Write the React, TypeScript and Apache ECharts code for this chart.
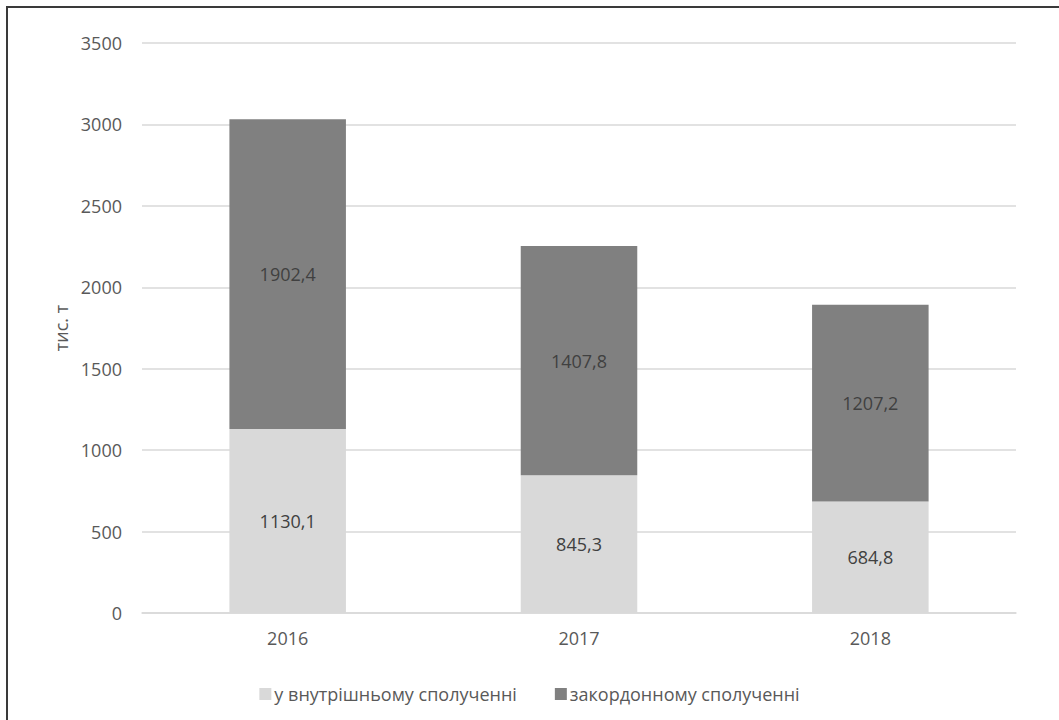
import React, { useEffect, useRef } from "react";
import * as echarts from "echarts";

const categories = ["2016", "2017", "2018"];
const domestic = [1130.1, 845.3, 684.8];
const foreign = [1902.4, 1407.8, 1207.2];
const seriesNames = ["у внутрішньому сполученні", "закордонному сполученні"];
const yAxisName = "тис. т";

const FONT = "'Open Sans', 'Liberation Sans', sans-serif";
const FS = 18;

export default function App() {
  const ref = useRef<HTMLDivElement>(null);
  useEffect(() => {
    if (!ref.current) return;
    const chart = echarts.init(ref.current, null, { renderer: "svg" });
    const fmt = (p: any) => String(p.value).replace(".", ",");
    chart.setOption({
      animation: false,
      backgroundColor: "#ffffff",
      textStyle: { fontFamily: FONT },
      graphic: [
        {
          type: "rect",
          shape: { x: 7, y: 7, width: 1070, height: 730 },
          style: { fill: "none", stroke: "#3a3a3a", lineWidth: 2 },
          silent: true,
        },
      ],
      grid: { left: 142, right: 43, top: 43, bottom: 107, containLabel: false },
      legend: {
        data: seriesNames,
        left: "center",
        top: 680,
        itemWidth: 12,
        itemHeight: 12,
        itemGap: 38,
        icon: "rect",
        textStyle: { fontFamily: FONT, fontSize: FS, color: "#595959", padding: [0, 0, 0, -2] },
      },
      xAxis: {
        type: "category",
        data: categories,
        axisLine: { show: true, lineStyle: { color: "#d9d9d9", width: 1.5 } },
        axisTick: { show: false },
        axisLabel: { fontFamily: FONT, fontSize: FS, color: "#595959", margin: 16 },
      },
      yAxis: {
        type: "value",
        min: 0,
        max: 3500,
        interval: 500,
        name: yAxisName,
        nameLocation: "middle",
        nameGap: 68,
        nameRotate: 90,
        nameTextStyle: { fontFamily: FONT, fontSize: FS, color: "#595959" },
        axisLine: { show: false },
        axisTick: { show: false },
        axisLabel: {
          fontFamily: FONT,
          fontSize: FS,
          color: "#595959",
          margin: 20,
          formatter: (v: number) => String(v),
        },
        splitLine: { lineStyle: { color: "#d9d9d9", width: 1.5 } },
      },
      series: [
        {
          name: seriesNames[0],
          type: "bar",
          stack: "total",
          data: domestic,
          barWidth: "40%",
          itemStyle: { color: "#d9d9d9" },
          label: { show: true, position: "inside", formatter: fmt, fontFamily: FONT, fontSize: FS, color: "#404040" },
        },
        {
          name: seriesNames[1],
          type: "bar",
          stack: "total",
          data: foreign,
          barWidth: "40%",
          itemStyle: { color: "#808080" },
          label: { show: true, position: "inside", formatter: fmt, fontFamily: FONT, fontSize: FS, color: "#404040" },
        },
      ],
    });
    return () => chart.dispose();
  }, []);
  return (
    <div
      ref={ref}
      style={{ position: "fixed", left: 0, top: 0, width: 1059, height: 720 }}
    />
  );
}
